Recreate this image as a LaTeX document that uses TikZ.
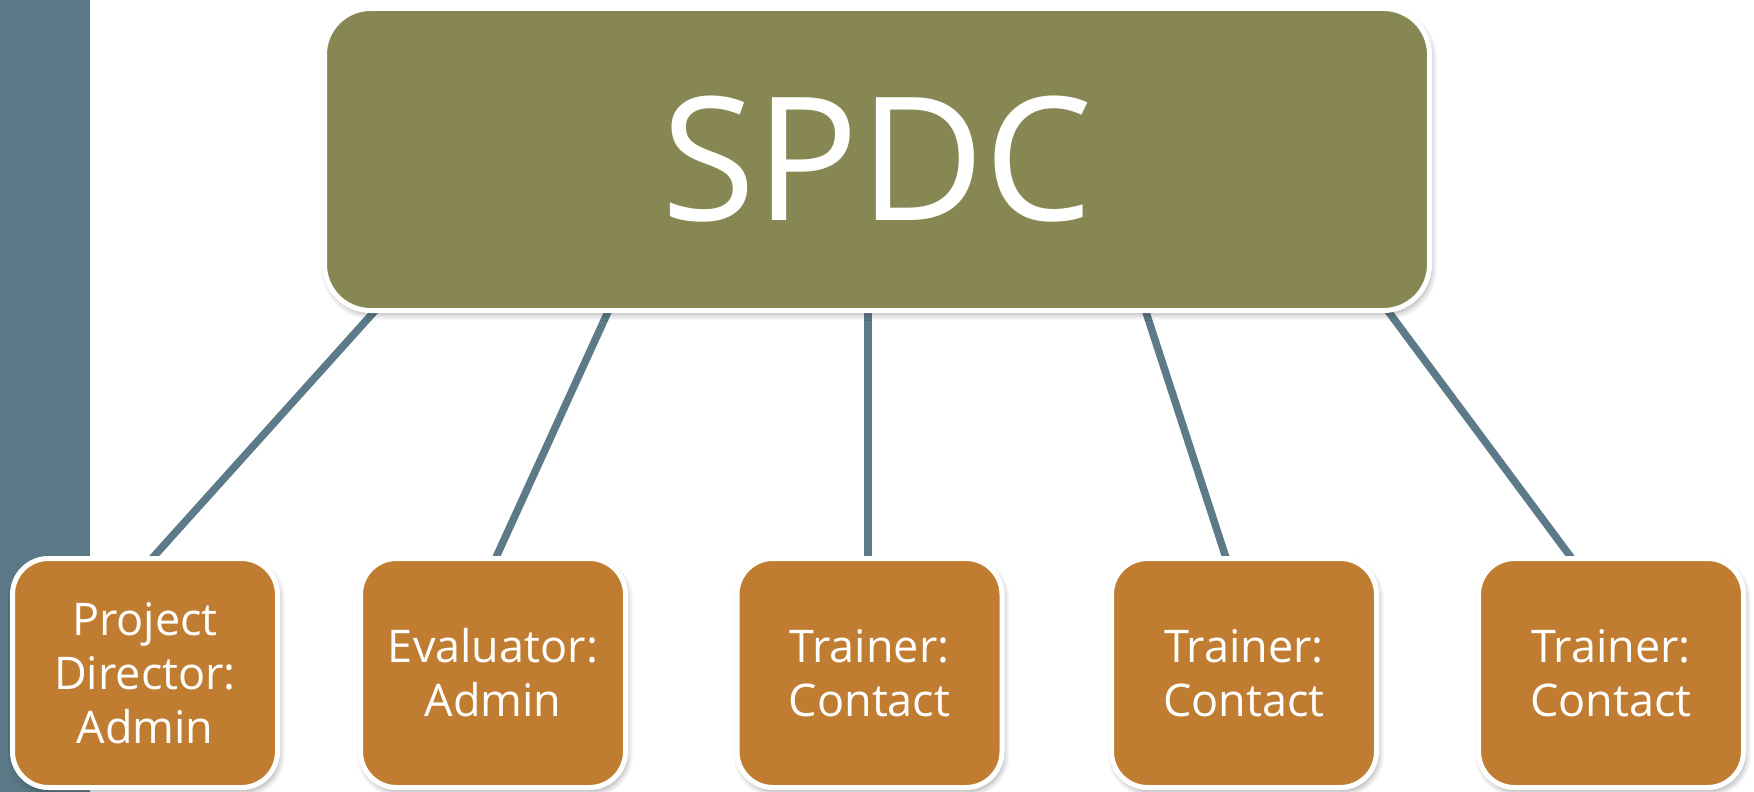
\documentclass[tikz,border=0pt]{standalone}
\usepackage{fontspec}
\setmainfont{Open Sans}
\usetikzlibrary{shadows.blur,calc,backgrounds}
\definecolor{barblue}{HTML}{5A7886}
\definecolor{linkblue}{HTML}{5C7A88}
\definecolor{olivebox}{HTML}{868752}
\definecolor{orangebox}{HTML}{C07D31}
\tikzset{
  softshadow/.style={blur shadow={shadow xshift=2pt, shadow yshift=-4pt, shadow blur radius=6pt, shadow blur steps=10, shadow opacity=35}},
  topbox/.style={draw=white, line width=5pt, fill=olivebox, rounded corners=46pt,
    minimum width=1105pt, minimum height=302pt, inner sep=0pt, text=white,
    font=\fontsize{172}{190}\selectfont, softshadow},
  rolebox/.style={draw=white, line width=5pt, fill=orangebox, rounded corners=36pt,
    minimum width=265pt, minimum height=229pt, inner sep=0pt, text=white, align=center,
    font=\fontsize{45}{54}\selectfont, softshadow},
  link/.style={draw=linkblue, line width=7.5pt}
}
\begin{document}
\begin{tikzpicture}[x=1pt,y=-1pt]
\useasboundingbox (0,0) rectangle (1754,792);
\fill[barblue] (0,0) rectangle (90,792);
\node[topbox] (spdc) at (877,159.5) {SPDC};
\node[rolebox] (b1) at (145,673) {Project\\Director:\\Admin};
\node[rolebox] (b2) at (493,673) {Evaluator:\\Admin};
\node[rolebox] (b3) at (869.5,673) {Trainer:\\Contact};
\node[rolebox] (b4) at (1244,673) {Trainer:\\Contact};
\node[rolebox] (b5) at (1611,673) {Trainer:\\Contact};
\begin{pgfonlayer}{background}
\draw[link] ($(spdc.south)+(-495,-10)$) -- ($(b1.north)+(2,8)$);
\draw[link] ($(spdc.south)+(-265,-10)$) -- ($(b2.north)+(0,8)$);
\draw[link] ($(spdc.south)+(-9,-10)$) -- ($(b3.north)+(-1.5,8)$);
\draw[link] ($(spdc.south)+(266,-10)$) -- ($(b4.north)+(-16,8)$);
\draw[link] ($(spdc.south)+(505,-10)$) -- ($(b5.north)+(-35,8)$);
\end{pgfonlayer}
\end{tikzpicture}
\end{document}
